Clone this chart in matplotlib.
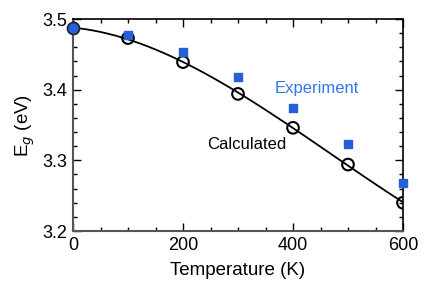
import numpy as np
import matplotlib.pyplot as plt
from matplotlib.ticker import MultipleLocator

plt.rcParams['font.family'] = ['Liberation Sans', 'DejaVu Sans']

temps = [0, 100, 200, 300, 400, 500, 600]
calc_eg = [3.487, 3.473, 3.439, 3.394, 3.346, 3.294, 3.240]
exp_temps = [100, 200, 300, 400, 500, 600]
exp_eg = [3.477, 3.453, 3.418, 3.374, 3.323, 3.268]
exp_t0 = 0
exp_eg0 = 3.487

fig = plt.figure(figsize=(4.36, 2.81), dpi=100)
ax = fig.add_axes([73 / 436, 50 / 281, 330 / 436, 212 / 281])

# smooth curve through calculated points
coef = np.polyfit(temps, calc_eg, 3)
tt = np.linspace(0, 600, 200)
ax.plot(tt, np.polyval(coef, tt), color='black', lw=1.3, zorder=2)

ax.scatter(temps, calc_eg, s=70, facecolors='none', edgecolors='black', linewidths=1.5, zorder=3)
ax.scatter(exp_temps, exp_eg, s=38, marker='s', color='#2560d8', zorder=4, clip_on=False)
ax.scatter([exp_t0], [exp_eg0], s=75, color='#2560d8', edgecolors='#222222', linewidths=1.2, zorder=5, clip_on=False)

ax.text(444, 3.401, 'Experiment', color='#3478e6', fontsize=12, ha='center', va='center')
ax.text(316, 3.323, 'Calculated', color='black', fontsize=12, ha='center', va='center')

ax.set_xlim(0, 600)
ax.set_ylim(3.2, 3.5)
ax.xaxis.set_major_locator(MultipleLocator(200))
ax.xaxis.set_minor_locator(MultipleLocator(50))
ax.yaxis.set_major_locator(MultipleLocator(0.1))
ax.yaxis.set_minor_locator(MultipleLocator(0.02))
ax.tick_params(which='both', direction='in', top=True, right=True, labelsize=13, pad=4)
ax.tick_params(which='major', length=6, width=1)
ax.tick_params(which='minor', length=3, width=1)

ax.set_xlabel('Temperature (K)', fontsize=13.5, labelpad=6)
ax.set_ylabel('E$_g$ (eV)', fontsize=13.5)

for side in ['left', 'bottom']:
    ax.spines[side].set_color('#555555')
    ax.spines[side].set_linewidth(1.5)
for side in ['top', 'right']:
    ax.spines[side].set_linewidth(1.2)

fig.savefig('out.png', dpi=100)
